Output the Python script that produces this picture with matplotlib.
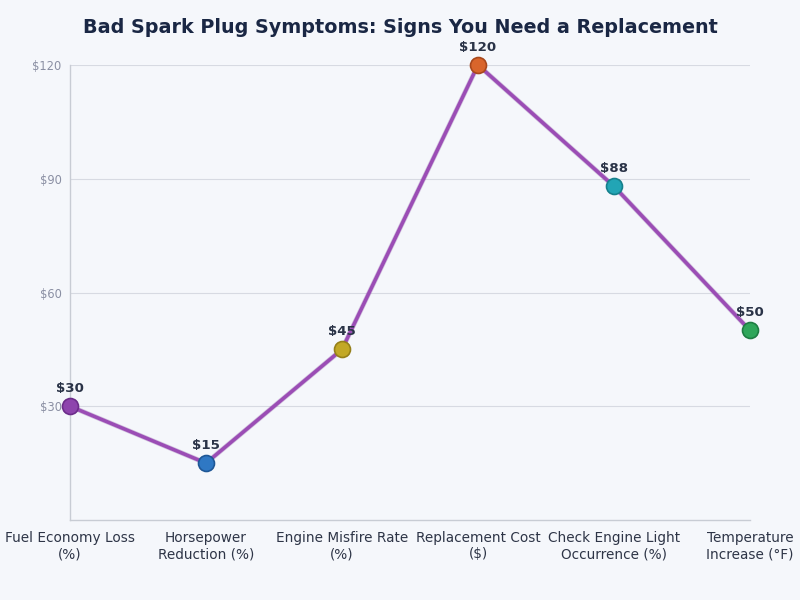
import matplotlib
matplotlib.use('Agg')
import matplotlib.pyplot as plt

categories = ['Fuel Economy Loss\n(%)', 'Horsepower\nReduction (%)', 'Engine Misfire Rate\n(%)',
              'Replacement Cost\n($)', 'Check Engine Light\nOccurrence (%)', 'Temperature\nIncrease (°F)']
values = [30, 15, 45, 120, 88, 50]
point_colors = ['#8e44ad', '#2f78c4', '#c2a826', '#d9652b', '#22a5b5', '#2fa65a']
edge_colors = ['#6c2d8a', '#1f5796', '#96801a', '#a8481c', '#16808c', '#1f7d43']
yticks = [30, 60, 90, 120]

bg = '#f5f7fb'
fig = plt.figure(figsize=(8, 6), dpi=100, facecolor=bg)
ax = fig.add_axes([0.0875, 0.1333, 0.85, 0.7584])
ax.set_facecolor(bg)

x = list(range(len(values)))
ax.plot(x, values, color='#6c2d8a', linewidth=3.6, alpha=0.25, zorder=2, clip_on=False)
ax.plot(x, values, color='#9b4db5', linewidth=2.6, zorder=3, clip_on=False)
for xi, v, c, ec in zip(x, values, point_colors, edge_colors):
    ax.plot(xi, v, 'o', markersize=11.5, markerfacecolor=c, markeredgecolor=ec,
            markeredgewidth=1.2, zorder=4, clip_on=False)
    ax.annotate(f'${v}', (xi, v), xytext=(0, 8), textcoords='offset points',
                ha='center', va='bottom', fontsize=9.6, fontweight='bold', color='#2a3347')

ax.set_xlim(0, len(values) - 1)
ax.set_ylim(0, 120)
ax.set_yticks(yticks)
ax.set_yticklabels([f'${t}' for t in yticks], fontsize=8.3, color='#8a8fa3')
ax.set_xticks(x)
ax.set_xticklabels(categories, fontsize=9.8, color='#2e3547')
ax.tick_params(axis='both', length=0, pad=6)
ax.tick_params(axis='x', pad=8)
ax.grid(axis='y', color='#d7dae2', linewidth=0.8)
ax.set_axisbelow(True)
for s in ['top', 'right']:
    ax.spines[s].set_visible(False)
for s in ['left', 'bottom']:
    ax.spines[s].set_color('#c8ccd4')
    ax.spines[s].set_linewidth(1)

fig.suptitle('Bad Spark Plug Symptoms: Signs You Need a Replacement', fontsize=13.8,
             fontweight='bold', color='#1a2744', y=0.97)

fig.savefig('out.png', dpi=100, facecolor=bg)
